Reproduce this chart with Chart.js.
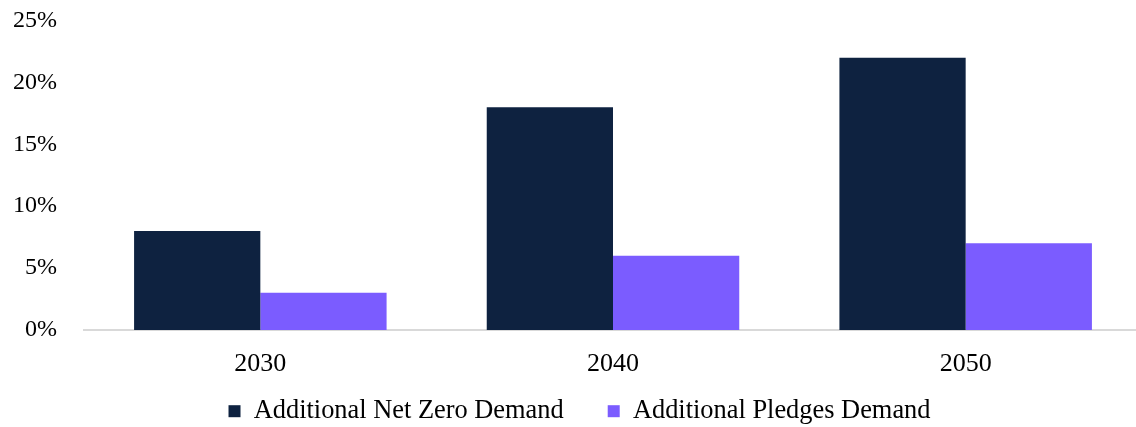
<!DOCTYPE html>
<html>
<head>
<meta charset="utf-8">
<script src="https://cdn.jsdelivr.net/npm/chart.js@4"></script>
<style>
  html, body { margin: 0; padding: 0; background: #fff; overflow: hidden; }
  #wrap { position: relative; width: 1159px; height: 427px; }
</style>
</head>
<body>
<div id="wrap"><canvas id="myChart"></canvas></div>
<script>
// data
const years = ['2030', '2040', '2050'];
const netZeroDemand = [8, 18, 22];
const pledgesDemand = [3, 6, 7];
const seriesNames = ['Additional Net Zero Demand', 'Additional Pledges Demand'];

const fontFamily = '"Liberation Serif", "Times New Roman", serif';

// x labels sit in the legend's band, so widen the label clip box after layout;
// legend is centred on the full canvas width
const layoutTweaks = {
    id: 'layoutTweaks',
    afterLayout(chart) {
        chart.scales.x.bottom = chart.height;
        chart.legend.right = chart.width;
    }
};

document.addEventListener('DOMContentLoaded', function () {
    const ctx = document.getElementById('myChart');
    new Chart(ctx, {
        type: 'bar',
        data: {
            labels: years,
            datasets: [{
                label: seriesNames[0],
                data: netZeroDemand,
                backgroundColor: '#0e2240'
            }, {
                label: seriesNames[1],
                data: pledgesDemand,
                backgroundColor: '#7b5cff'
            }]
        },
        options: {
            responsive: true,
            maintainAspectRatio: false,
            animation: false,
            layout: { padding: { top: 0, bottom: 0, left: 0, right: 17 } },
            datasets: {
                bar: { categoryPercentage: 0.716, barPercentage: 1.0 }
            },
            scales: {
                x: {
                    grid: { display: false, drawTicks: false },
                    border: { display: true, color: '#d9d9d9', width: 2 },
                    ticks: { color: '#000', font: { family: fontFamily, size: 26 }, padding: 19 },
                    afterFit: function (scale) { scale.height = 24; }
                },
                y: {
                    min: 0,
                    max: 25,
                    grid: { display: false, drawTicks: false },
                    border: { display: false },
                    ticks: {
                        stepSize: 5,
                        color: '#000',
                        padding: 27,
                        font: { family: fontFamily, size: 24 },
                        callback: v => v + '%'
                    },
                    afterFit: function (scale) {
                        scale.width = 84;
                        scale.paddingTop = 20.5;
                        scale.paddingBottom = 0;
                    }
                }
            },
            plugins: {
                legend: {
                    position: 'bottom',
                    maxHeight: 73,
                    labels: {
                        color: '#000',
                        boxWidth: 12,
                        boxHeight: 12,
                        padding: 44,
                        font: { family: fontFamily, size: 26.4 }
                    }
                },
                tooltip: { enabled: false }
            }
        },
        plugins: [layoutTweaks]
    });
});
</script>
</body>
</html>
